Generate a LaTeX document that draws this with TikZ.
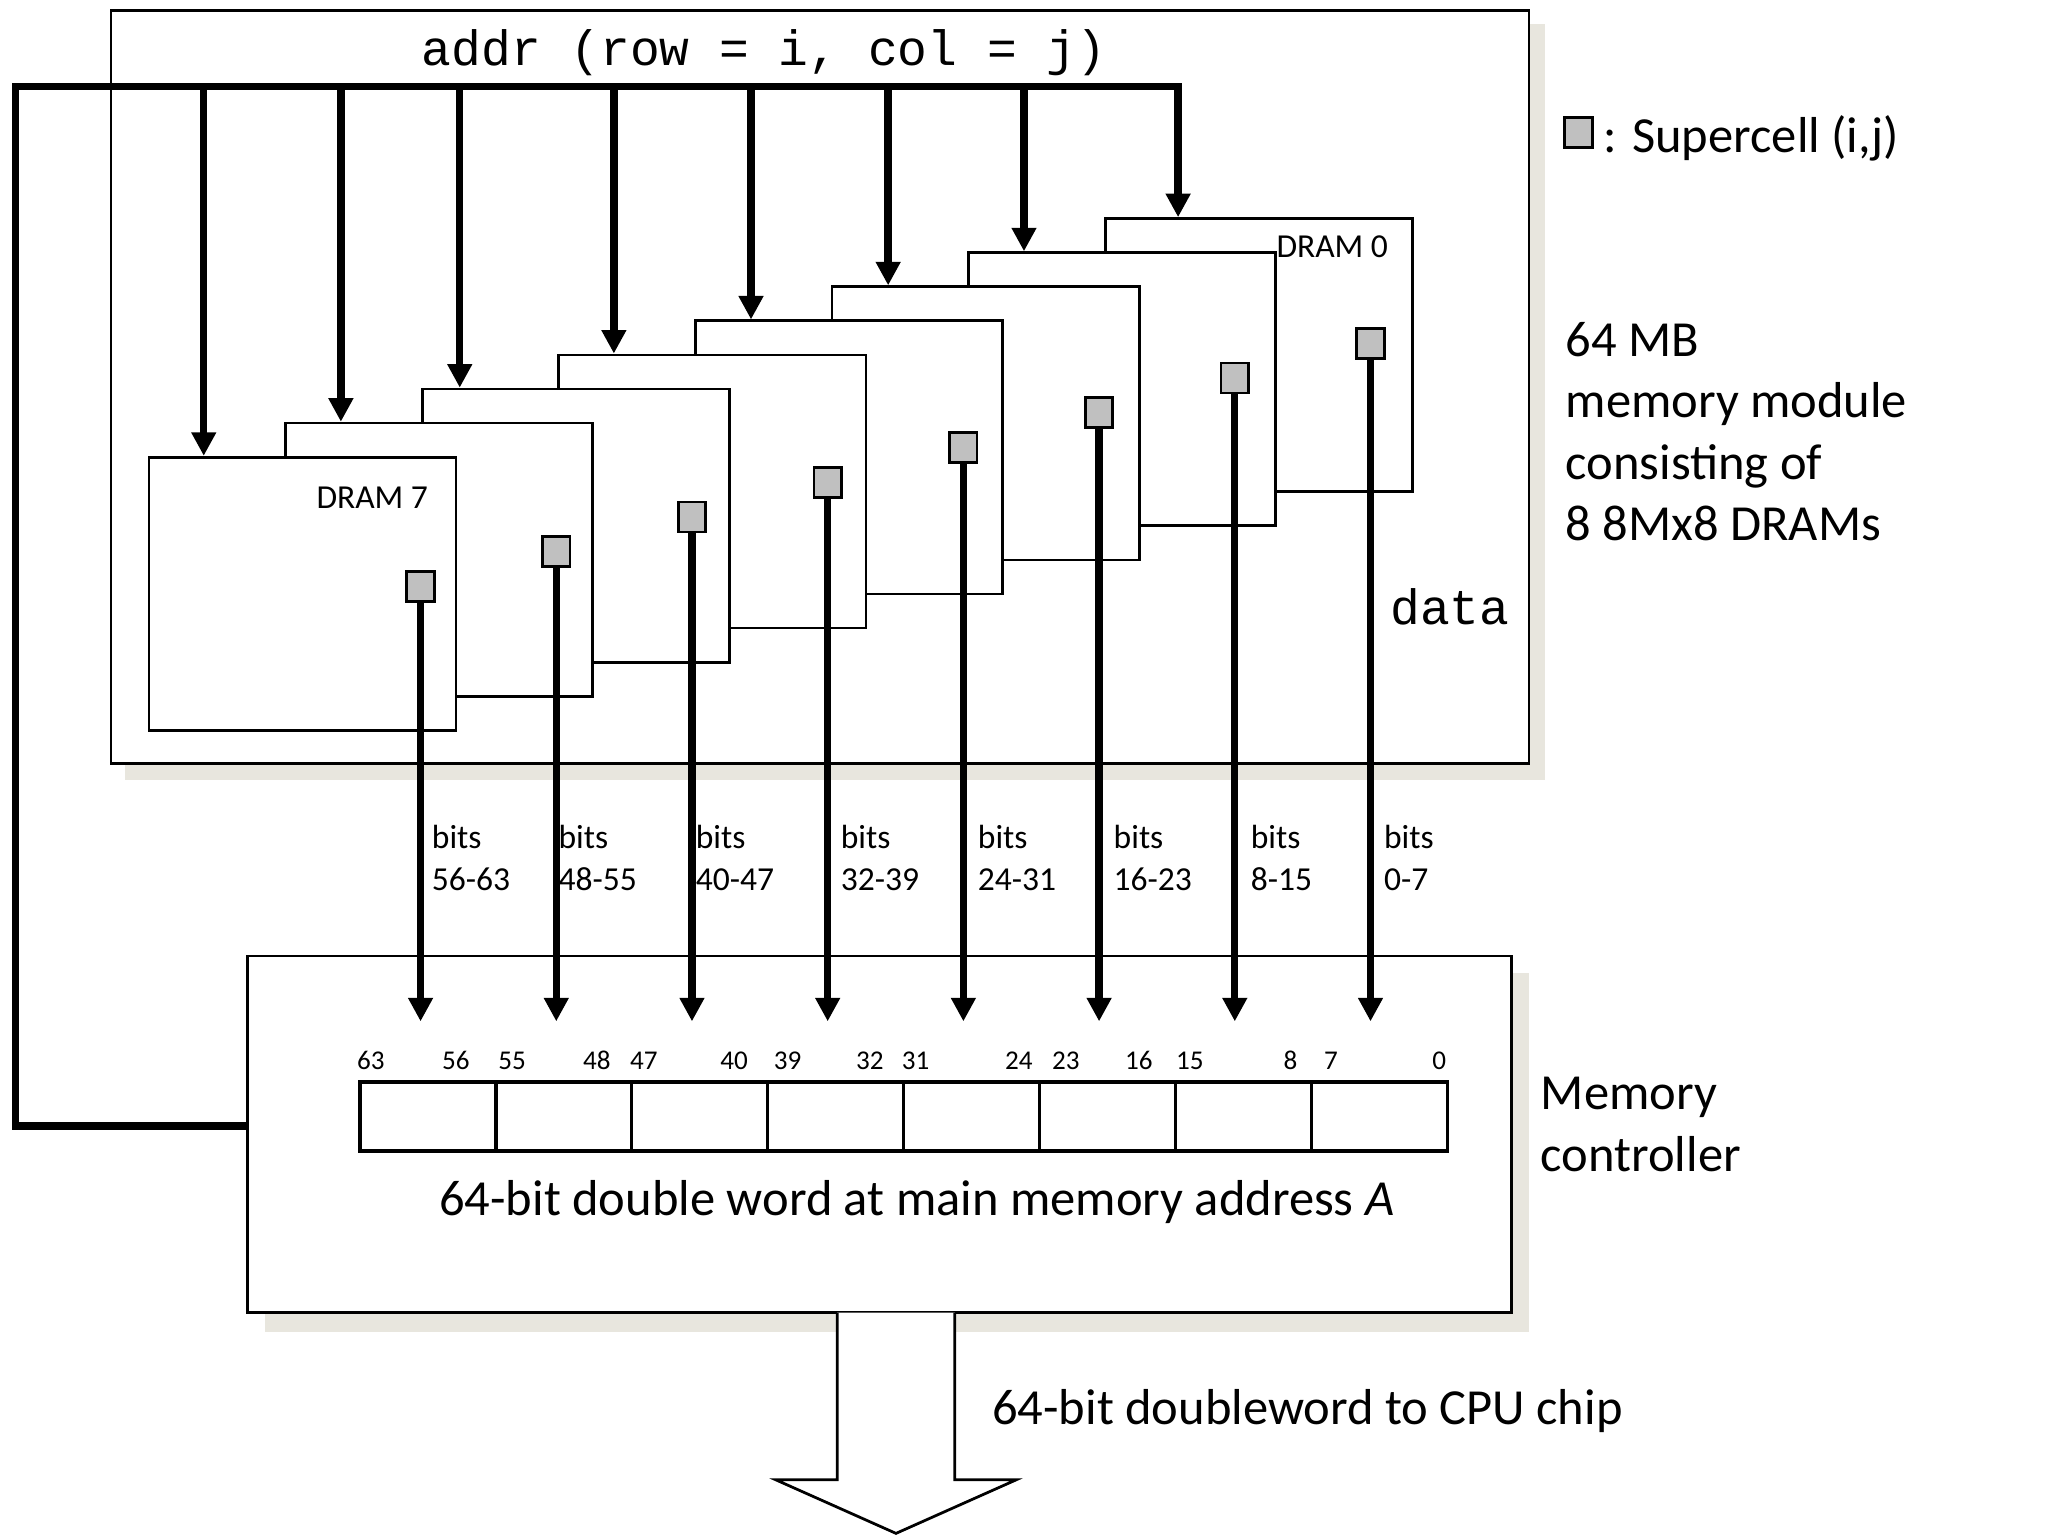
\documentclass[tikz,border=0pt]{standalone}
\usepackage{fontspec}
\setmainfont{Carlito}
\setmonofont{Liberation Mono}
\usetikzlibrary{arrows.meta}
\definecolor{cellgray}{HTML}{C0C0C0}
\definecolor{shadowgray}{HTML}{E8E6DE}
\begin{document}
\begin{tikzpicture}[x=0.01cm,y=-0.01cm,
	box/.style={draw, line width=0.6pt, fill=white, inner sep=0pt},
	dram/.style={box, anchor=north west, minimum width=2.35cm, minimum height=2.09cm},
	cell/.style={draw, line width=0.6pt, fill=cellgray, minimum width=0.21cm, minimum height=0.23cm, inner sep=0pt},
	wire/.style={line width=1.6pt},
	wirearrow/.style={wire, -{Triangle[length=0.18cm,width=0.18cm]}},
	bigtext/.style={font=\fontsize{11}{13.4}\selectfont, inner sep=0pt},
	smalltext/.style={font=\fontsize{7.3}{9.1}\selectfont, inner sep=0pt},
	tinytext/.style={font=\fontsize{5.9}{7}\selectfont, inner sep=0pt},
	monotext/.style={font=\ttfamily\fontsize{10.8}{13}\selectfont, inner sep=0pt}]
	\useasboundingbox (0,0) rectangle (1568,1176);
	% memory module
	\fill[shadowgray] (96,18) rectangle (1183,597);
	\node[box, anchor=north west, minimum width=10.85cm, minimum height=5.76cm] (mod) at (84,7) {};
	\node[monotext] (addr) at (585,40) {addr (row = i, col = j)};
	\node[monotext] (data) at (1110,465) {data};
	\foreach \k [evaluate=\k as \n using int(7-\k)] in {0,...,7} {
		\node[dram] (d\k) at ({113+104.6*\n},{349-26.1*\n}) {};
		\node[cell] (s\k) at ({322+103.9*\n},{449-26.6*\n}) {};
	}
	\node[smalltext] (l7) at (285,381) {DRAM 7};
	\node[smalltext] (l0) at (1020,189) {DRAM 0};
	% memory controller
	\fill[shadowgray] (203,745) rectangle (1171,1020);
	\node[box] (mc) at (673.5,868.5) [minimum width=9.67cm, minimum height=2.73cm] {};
	\foreach \i in {0,...,7}
		\node[box, anchor=north west, line width=0.8pt, minimum width=1.041cm, minimum height=0.53cm] (r\i) at ({274+104.1*\i},827) {};
	\foreach \x/\b in {284/63,349/56,392/55,457/48,493/47,562/40,603/39,666/32,701/31,780/24,816/23,872/16,911/15,988/8,1019/7,1102/0}
		\node[tinytext] (n\b) at (\x,812) {\b};
	\node[bigtext] (word) at (702,920) {64-bit double word at main memory address \textit{A}};
	% address bus
	\draw[wirearrow] (mc.west |- 0,862) -- (12,862) -- (12,66) -- (902,66) -- (d0.north -| 902,66);
	\foreach \k/\ax in {7/156,6/261,5/352,4/470,3/575,2/680,1/784}
		\draw[wirearrow] (\ax,66) -- (d\k.north -| \ax,66);
	% data lines
	\foreach \k/\lx/\bits in {7/330/56-63,6/427/48-55,5/532/40-47,4/643/32-39,3/748/24-31,2/852/16-23,1/957/8-15,0/1059/0-7} {
		\draw[wirearrow] (s\k.south) -- (s\k.south |- 0,782);
		\node[smalltext, anchor=west, align=left] (t\k) at (\lx,657) {bits\\\bits};
	}
	% output
	\draw[line width=0.6pt, fill=white] (641,1005) -- (641,1133) -- (594,1133) -- (686,1174) -- (778,1133) -- (731,1133) -- (731,1005);
	\node[bigtext, anchor=west] (cpu) at (759,1080) {64-bit doubleword to CPU chip};
	% labels on the right
	\node[cell] (key) at (1208.5,101.5) {};
	\node[bigtext, anchor=west] (keylbl) at (1227,106) {: Supercell (i,j)};
	\node[bigtext, anchor=west, align=left] (modlbl) at (1198,330.5) {64 MB\\memory module\\consisting of\\8 8Mx8 DRAMs};
	\node[bigtext, anchor=west, align=left] (mclbl) at (1179,861) {Memory\\controller};
\end{tikzpicture}
\end{document}
